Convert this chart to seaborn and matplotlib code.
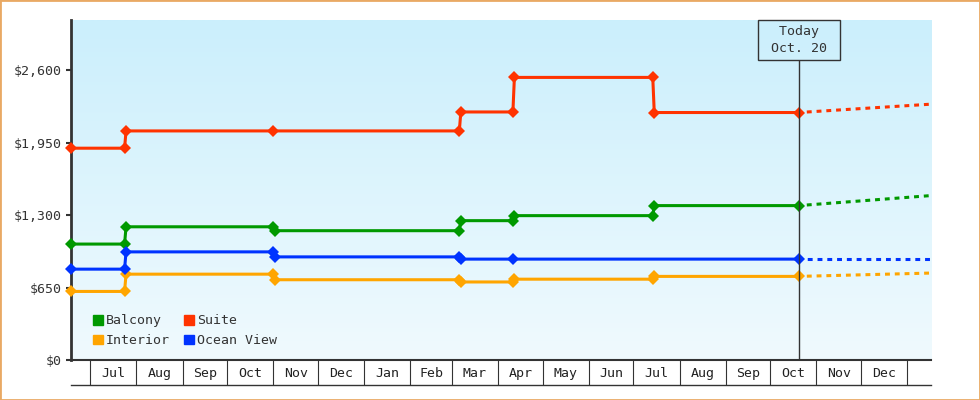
import numpy as np
import pandas as pd
import matplotlib
matplotlib.use("Agg")
import matplotlib.pyplot as plt
import matplotlib.dates as mdates
from matplotlib.colors import LinearSegmentedColormap
from matplotlib.patches import Rectangle, Patch
from matplotlib.lines import Line2D
import seaborn as sns

# price history (dates of each change point)
suite_dates = ["2012-06-18", "2012-07-24", "2012-07-25", "2012-11-01", "2013-03-06", "2013-03-07",
               "2013-04-11", "2013-04-12", "2013-07-14", "2013-07-15", "2013-10-20"]
suite_prices = [1900, 1900, 2055, 2055, 2055, 2225, 2225, 2535, 2535, 2220, 2220]

balcony_dates = ["2012-06-18", "2012-07-24", "2012-07-25", "2012-11-01", "2012-11-02", "2013-03-06",
                 "2013-03-07", "2013-04-11", "2013-04-12", "2013-07-14", "2013-07-15", "2013-10-20"]
balcony_prices = [1040, 1040, 1195, 1195, 1160, 1160, 1250, 1250, 1295, 1295, 1385, 1385]

ocean_dates = ["2012-06-18", "2012-07-24", "2012-07-25", "2012-11-01", "2012-11-02", "2013-03-06",
               "2013-03-07", "2013-04-11", "2013-10-20"]
ocean_prices = [815, 815, 970, 970, 925, 925, 905, 905, 905]

interior_dates = ["2012-06-18", "2012-07-24", "2012-07-25", "2012-11-01", "2012-11-02", "2013-03-06",
                  "2013-03-07", "2013-04-11", "2013-04-12", "2013-07-14", "2013-07-15", "2013-10-20"]
interior_prices = [615, 615, 770, 770, 720, 720, 700, 700, 725, 725, 750, 750]

# projected prices after today
forecast_dates = ["2013-10-20", "2014-01-17"]
suite_forecast = [2220, 2295]
balcony_forecast = [1385, 1475]
ocean_forecast = [905, 905]
interior_forecast = [750, 780]

today = pd.Timestamp("2013-10-20")
yticks = [0, 650, 1300, 1950, 2600]

series = [
    ("Balcony", balcony_dates, balcony_prices, balcony_forecast, "#009900"),
    ("Interior", interior_dates, interior_prices, interior_forecast, "#FFA500"),
    ("Suite", suite_dates, suite_prices, suite_forecast, "#FF3300"),
    ("Ocean View", ocean_dates, ocean_prices, ocean_forecast, "#0033FF"),
]

plt.rcParams['font.family'] = ['DejaVu Sans Mono']
ink = "#333333"

fig = plt.figure(figsize=(9.8, 4), dpi=100)
ax = fig.add_axes([71 / 980, 0.1, 860 / 980, 0.85])

# gradient background
grad = LinearSegmentedColormap.from_list("bg", ["#F0FAFE", "#CBEFFC"])
ax.imshow(np.linspace(0, 1, 256).reshape(-1, 1), cmap=grad, origin="lower",
          extent=[0, 1, 0, 1], transform=ax.transAxes, aspect="auto", zorder=0)

for name, d, p, fc, col in series:
    sns.lineplot(x=pd.to_datetime(forecast_dates), y=fc, ax=ax, color=col, lw=2.2,
                 linestyle=(0.5, (1.6, 1.6)), zorder=2)
    sns.lineplot(x=pd.to_datetime(d), y=p, ax=ax, color=col, lw=2.2, marker="D",
                 ms=6, mew=0, zorder=3, clip_on=False)

ax.set_xlim(pd.Timestamp("2012-06-18"), pd.Timestamp("2014-01-17"))
ax.set_ylim(0, 3050)

# month boxes under the axis
bounds = pd.date_range("2012-07-01", "2014-01-01", freq="MS")
mids = bounds[:-1] + (bounds[1:] - bounds[:-1]) / 2
ax.set_xticks(bounds)
ax.xaxis.set_major_formatter(plt.NullFormatter())
ax.set_xticks(mids, minor=True)
ax.xaxis.set_minor_formatter(mdates.DateFormatter("%b"))
ax.tick_params(axis="x", which="major", length=18, width=0.8, color=ink, direction="out")
ax.tick_params(axis="x", which="minor", length=0, pad=5, labelsize=9.5, labelcolor="#222222")
ax.add_line(Line2D([0, 1], [-25 / 340, -25 / 340], transform=ax.transAxes, color=ink,
                   lw=1, clip_on=False))

ax.set_yticks(yticks)
ax.set_yticklabels(["$" + format(v, ",") for v in yticks])
ax.tick_params(axis="y", length=3.6, width=1.5, color=ink, pad=3, labelsize=9.5,
               labelcolor="#333333")

for s in ["top", "right"]:
    ax.spines[s].set_visible(False)
ax.spines["left"].set_linewidth(2)
ax.spines["left"].set_color(ink)
ax.spines["bottom"].set_linewidth(1.5)
ax.spines["bottom"].set_color(ink)
ax.set_xlabel("")
ax.set_ylabel("")

# today marker
ax.axvline(today, ymax=0.88, color=ink, lw=1, zorder=4)
ax.text(today, 1 - 5 / 340, " Today \n Oct. 20 ", transform=ax.get_xaxis_transform(),
        ha="center", va="top", ma="center", fontsize=9.5, color=ink, linespacing=1.4,
        bbox=dict(boxstyle="square,pad=0.38", fc="none", ec=ink, lw=1), zorder=5)

handles = [Patch(color=c) for _, _, _, _, c in series]
ax.legend(handles, [n for n, _, _, _, _ in series], ncol=2, frameon=False, loc="lower left",
          bbox_to_anchor=(22 / 860, 13 / 340), borderpad=0, borderaxespad=0,
          handlelength=0.76, handleheight=0.76, handletextpad=0.23, columnspacing=1.04,
          labelspacing=0.5, fontsize=9.5, labelcolor=ink)

fig.patches.append(Rectangle((0, 0), 1, 1, transform=fig.transFigure, fill=False,
                             ec="#E9A964", lw=2))

fig.savefig("out.png", dpi=100)
